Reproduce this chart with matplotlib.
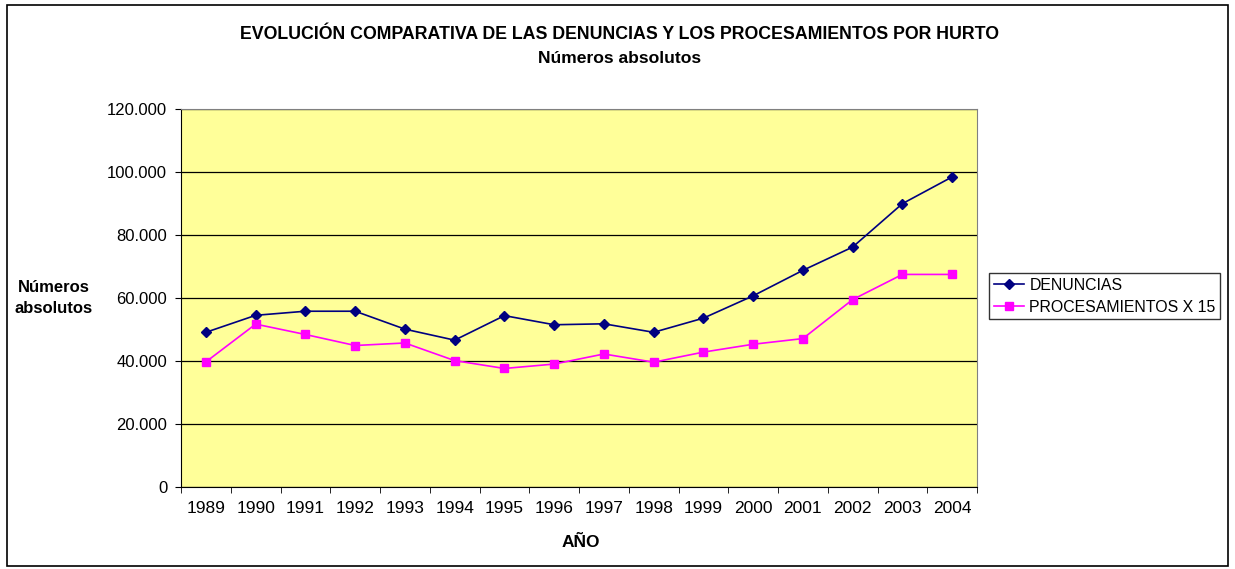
import matplotlib
matplotlib.use('Agg')
from matplotlib import pyplot as plt
from matplotlib.patches import Rectangle

plt.rcParams['font.family'] = ['Liberation Sans', 'DejaVu Sans']

years = ['1989', '1990', '1991', '1992', '1993', '1994', '1995', '1996',
         '1997', '1998', '1999', '2000', '2001', '2002', '2003', '2004']
denuncias = [49100, 54500, 55800, 55800, 50100, 46600, 54400, 51500,
             51800, 49100, 53600, 60700, 68800, 76200, 90000, 98500]
procesamientos_x15 = [39700, 51700, 48400, 44900, 45700, 40100, 37600, 39000,
                      42200, 39600, 42800, 45300, 47100, 59500, 67500, 67500]
yticks = [0, 20000, 40000, 60000, 80000, 100000, 120000]

fig = plt.figure(figsize=(12.35, 5.69), dpi=100)
ax = fig.add_axes([0.1466, 0.1446, 0.6445, 0.6633])
ax.set_facecolor('#FFFF99')

x = list(range(len(years)))
ax.plot(x, denuncias, color='#000080', marker='D', markersize=5, lw=1.2,
        label='DENUNCIAS')
ax.plot(x, procesamientos_x15, color='#FF00FF', marker='s', markersize=6, lw=1.2,
        label='PROCESAMIENTOS X 15')

ax.set_xlim(-0.5, len(years) - 0.5)
ax.set_ylim(0, 120000)
ax.set_yticks(yticks)
ax.set_yticklabels(['0' if v == 0 else f'{v:,}'.replace(',', '.') for v in yticks],
                   fontsize=12)
ax.set_xticks(x)
ax.set_xticklabels(years, fontsize=12.5)
ax.set_xticks([i - 0.5 for i in range(len(years) + 1)], minor=True)
ax.tick_params(axis='x', which='major', length=0, pad=10)
ax.tick_params(axis='x', which='minor', length=4, direction='out', color='black')
ax.tick_params(axis='y', length=4, direction='out', pad=6)
ax.grid(axis='y', color='black', lw=0.9)
ax.set_axisbelow(True)

for s in ['top', 'right']:
    ax.spines[s].set_color('#808080')
for s in ['left', 'bottom']:
    ax.spines[s].set_color('black')

fig.text(0.5013, 0.940, 'EVOLUCIÓN COMPARATIVA DE LAS DENUNCIAS Y LOS PROCESAMIENTOS POR HURTO',
         ha='center', va='center', fontsize=12.8, fontweight='bold')
fig.text(0.5013, 0.898, 'Números absolutos', ha='center', va='center',
         fontsize=12.6, fontweight='bold')
fig.text(0.0435, 0.476, 'Números\nabsolutos', ha='center', va='center',
         fontsize=12, fontweight='bold', linespacing=1.5)
fig.text(0.470, 0.047, 'AÑO', ha='center', va='center', fontsize=12.5,
         fontweight='bold')

leg = ax.legend(loc='center left', bbox_to_anchor=(1.015, 0.505), fontsize=11.4,
                frameon=True, fancybox=False, edgecolor='black', borderpad=0.3,
                handlelength=1.9, handletextpad=0.35, labelspacing=0.45,
                borderaxespad=0)
leg.get_frame().set_linewidth(1.0)

fig.patches.append(Rectangle((0.006, 0.006), 0.988, 0.985, transform=fig.transFigure,
                             fill=False, edgecolor='black', lw=1.2))

fig.savefig('out.png', dpi=100)
